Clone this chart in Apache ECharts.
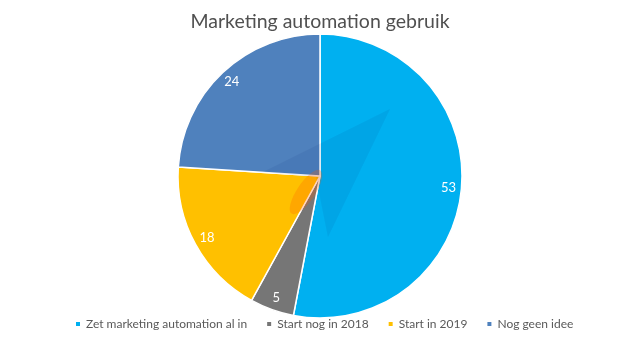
<!DOCTYPE html>
<html>
<head>
<meta charset="utf-8">
<style>
  html, body { margin: 0; padding: 0; background: #ffffff; }
  #chart { width: 640px; height: 343px; }
</style>
<script src="https://cdn.jsdelivr.net/npm/echarts@6/dist/echarts.min.js"></script>
</head>
<body>
<div id="chart"></div>
<script>
// Survey answers about marketing automation usage
const categories = ['Zet marketing automation al in', 'Start nog in 2018', 'Start in 2019', 'Nog geen idee'];
const values = [53, 5, 18, 24];
const colors = ['#00B0F0', '#767676', '#FFC000', '#4F81BD'];

const FONT = 'Lato, "Open Sans", sans-serif';
const chart = echarts.init(document.getElementById('chart'), null, { renderer: 'canvas' });

const pieData = categories.map((name, i) => ({ name, value: values[i], itemStyle: { color: colors[i] } }));

chart.setOption({
  animation: false,
  title: {
    text: 'Marketing automation gebruik',
    left: 'center',
    top: 7,
    textStyle: { fontFamily: FONT, fontSize: 19.5, fontWeight: 'normal', color: '#505050' }
  },
  legend: {
    bottom: 8,
    left: 69,
    itemWidth: 6,
    itemHeight: 6,
    itemGap: 18,
    icon: 'rect',
    textStyle: { fontFamily: FONT, fontSize: 12, color: '#595959' },
    data: categories
  },
  series: [
    {
      type: 'pie',
      center: [320, 176],
      radius: [0, 142],
      startAngle: 90,
      clockwise: true,
      label: { show: false },
      labelLine: { show: false },
      itemStyle: { borderColor: '#ffffff', borderWidth: 1.5 },
      emphasis: { disabled: true },
      data: pieData
    },
    {
      // transparent ring carrying the value labels at ~0.88 of the radius
      type: 'pie',
      center: [320, 176],
      radius: [110, 142],
      startAngle: 90,
      clockwise: true,
      silent: true,
      legendHoverLink: false,
      itemStyle: { color: 'rgba(0,0,0,0)', borderWidth: 0 },
      label: {
        show: true,
        position: 'inside',
        formatter: '{c}',
        fontFamily: FONT,
        fontSize: 13,
        color: '#ffffff'
      },
      labelLine: { show: false },
      emphasis: { disabled: true },
      data: categories.map((name, i) => ({ name, value: values[i] }))
    }
  ],
  graphic: [
    {
      // faint emblem in the middle of the pie
      type: 'polygon',
      silent: true,
      z: 100,
      shape: { points: [[390, 109], [263, 172], [316, 177], [328, 237]] },
      style: { fill: 'rgba(0,40,120,0.08)' }
    },
    {
      type: 'ellipse',
      silent: true,
      z: 101,
      shape: { cx: 306, cy: 192, rx: 26, ry: 9 },
      rotation: Math.PI / 3.2,
      originX: 306, originY: 192,
      style: { fill: 'rgba(255,90,0,0.25)' }
    }
  ]
});
</script>
</body>
</html>
